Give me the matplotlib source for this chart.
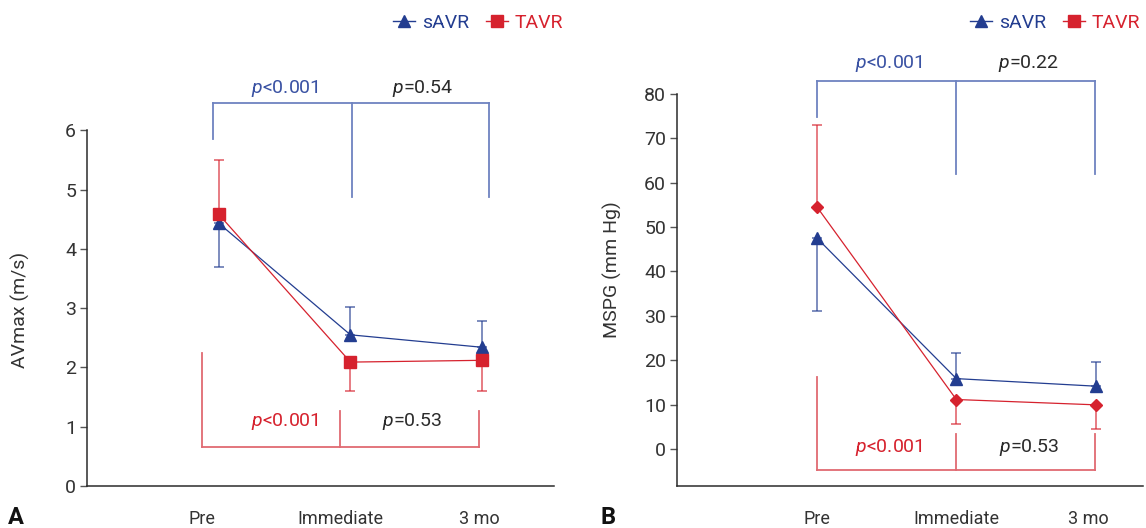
import matplotlib
matplotlib.use("Agg")
import matplotlib.pyplot as plt
from matplotlib.lines import Line2D

# ---------------- data ----------------
categories = ["Pre", "Immediate", "3 mo"]

# Panel A: AVmax (m/s)
savr_a = [4.43, 2.55, 2.34]
savr_a_lo = [0.73, 0.0, 0.0]
savr_a_hi = [0.0, 0.47, 0.45]
tavr_a = [4.58, 2.09, 2.12]
tavr_a_lo = [0.0, 0.49, 0.52]
tavr_a_hi = [0.92, 0.0, 0.0]

# Panel B: MSPG (mm Hg)
savr_b = [47.5, 15.9, 14.2]
savr_b_lo = [16.5, 0.0, 0.0]
savr_b_hi = [0.0, 5.7, 5.5]
tavr_b = [54.5, 11.2, 10.0]
tavr_b_lo = [0.0, 5.5, 5.5]
tavr_b_hi = [18.5, 0.0, 0.0]

pvals_a_savr = ["<0.001", "=0.54"]
pvals_a_tavr = ["<0.001", "=0.53"]
pvals_b_savr = ["<0.001", "=0.22"]
pvals_b_tavr = ["<0.001", "=0.53"]

# bracket levels: (top/bottom bar, first leg end, other legs end)
brk_a_savr = (6.46, 5.86, 4.88)
brk_a_tavr = (0.66, 2.24, 1.26)
brk_b_savr = (82.9, 74.7, 61.9)
brk_b_tavr = (-4.66, 16.2, 3.4)

# ---------------- style ----------------
FONT = ["Roboto", "DejaVu Sans"]
plt.rcParams["font.family"] = FONT
plt.rcParams["mathtext.fontset"] = "custom"
plt.rcParams["mathtext.it"] = "Roboto:italic"
plt.rcParams["mathtext.rm"] = "Roboto"

BLUE = "#233D90"
RED = "#D6222E"
BLUE_BR = "#6E82C0"
RED_BR = "#E06A72"
BLUE_TXT = "#3A52A3"
DARK = "#2B2B2B"
FS = 13

W, H = 1146, 528
fig = plt.figure(figsize=(W / 100, H / 100), dpi=100)


def px_axes(left, right, top, bottom):
    return fig.add_axes([left / W, 1 - bottom / H, (right - left) / W, (bottom - top) / H])


def style_axes(ax, ylim, yticks, xlim):
    ax.set_xlim(*xlim)
    ax.set_ylim(*ylim)
    for s in ("top", "right"):
        ax.spines[s].set_visible(False)
    for s in ("left", "bottom"):
        ax.spines[s].set_color(DARK)
        ax.spines[s].set_linewidth(1.1)
    ax.set_yticks(yticks)
    ax.tick_params(axis="y", length=5, width=1, color="#555555", labelsize=FS + 1,
                   labelcolor="#333333", pad=3)
    ax.tick_params(axis="x", length=0, labelsize=FS, labelcolor="#333333", pad=17)


def draw_series(ax, y, lo, hi, color, marker, ms):
    x = list(range(len(y)))
    ax.errorbar(x, y, yerr=[lo, hi], fmt="none", ecolor=color, elinewidth=1.1,
                capsize=3.5, capthick=1.1, alpha=0.75, zorder=3)
    ax.plot(x, y, color=color, lw=0.9, marker=marker, ms=ms, mec=color, mfc=color,
            zorder=4)


def draw_bracket(ax, xs, levels, color):
    bar, first, other = levels
    ax.plot([xs[0], xs[-1]], [bar, bar], color=color, lw=1.3, clip_on=False, zorder=2)
    ax.plot([xs[0], xs[0]], [bar, first], color=color, lw=1.3, clip_on=False, zorder=2)
    for xx in xs[1:]:
        ax.plot([xx, xx], [bar, other], color=color, lw=1.3, clip_on=False, zorder=2)


def ptext(ax, x, y, s, color):
    ax.text(x, y, r"$\mathit{p}$" + s, color=color, fontsize=FS + 1, ha="center",
            va="center", clip_on=False)


def legend(left_px, y_px):
    handles = [
        Line2D([], [], color=BLUE, lw=1, marker="^", ms=8, label="sAVR"),
        Line2D([], [], color=RED, lw=1, marker="s", ms=8, label="TAVR"),
    ]
    lg = fig.legend(handles=handles, loc="center left",
                    bbox_to_anchor=(left_px / W, 1 - y_px / H), ncol=2,
                    frameon=False, fontsize=FS + 1, handlelength=1.15, handletextpad=0.35,
                    columnspacing=0.85, borderpad=0, borderaxespad=0)
    for t, c in zip(lg.get_texts(), [BLUE, RED]):
        t.set_color(c)


xidx = list(range(len(categories)))

# ---------------- Panel A ----------------
axA = px_axes(87.3, 554, 130.3, 486)
style_axes(axA, (0, 6), range(0, 7), (-1.0, 2.547))
lab_shift_a = [-0.13, -0.08, -0.02]
axA.set_xticks([i + s for i, s in zip(xidx, lab_shift_a)])
axA.set_xticklabels(categories)
draw_bracket(axA, [-0.042, 1.01, 2.05], brk_a_savr, BLUE_BR)
draw_bracket(axA, [-0.13, 0.92, 1.977], brk_a_tavr, RED_BR)
draw_series(axA, savr_a, savr_a_lo, savr_a_hi, BLUE, "^", 8)
draw_series(axA, tavr_a, tavr_a_lo, tavr_a_hi, RED, "s", 8)
ptext(axA, 0.50, 6.71, pvals_a_savr[0], BLUE_TXT)
ptext(axA, 1.55, 6.71, pvals_a_savr[1], DARK)
ptext(axA, 0.50, 1.08, pvals_a_tavr[0], RED)
ptext(axA, 1.47, 1.08, pvals_a_tavr[1], DARK)
fig.text(20 / W, 1 - 310 / H, "AVmax (m/s)", rotation=90, ha="center", va="center",
         fontsize=FS + 1, color="#333333")
fig.text(8 / W, 1 - 518 / H, "A", fontsize=17, fontweight="bold", ha="left",
         va="center", color="#111111")
legend(393, 23)

# ---------------- Panel B ----------------
axB = px_axes(677.3, 1143, 93.7, 486)
style_axes(axB, (-8.26, 80), range(0, 81, 10), (-1.003, 2.34))
lab_shift_b = [0.0, 0.0, -0.055]
axB.set_xticks([i + s for i, s in zip(xidx, lab_shift_b)])
axB.set_xticklabels(categories)
draw_bracket(axB, [0.0, 1.0, 1.995], brk_b_savr, BLUE_BR)
draw_bracket(axB, [0.0, 1.0, 1.995], brk_b_tavr, RED_BR)
draw_series(axB, savr_b, savr_b_lo, savr_b_hi, BLUE, "^", 8)
draw_series(axB, tavr_b, tavr_b_lo, tavr_b_hi, RED, "D", 6.5)
ptext(axB, 0.52, 86.9, pvals_b_savr[0], BLUE_TXT)
ptext(axB, 1.52, 86.9, pvals_b_savr[1], DARK)
ptext(axB, 0.52, 0.5, pvals_b_tavr[0], RED)
ptext(axB, 1.52, 0.5, pvals_b_tavr[1], DARK)
fig.text(612 / W, 1 - 270 / H, "MSPG (mm Hg)", rotation=90, ha="center", va="center",
         fontsize=FS + 1, color="#333333")
fig.text(600 / W, 1 - 518 / H, "B", fontsize=17, fontweight="bold", ha="left",
         va="center", color="#111111")
legend(970, 23)

fig.savefig("out.png", dpi=100)
